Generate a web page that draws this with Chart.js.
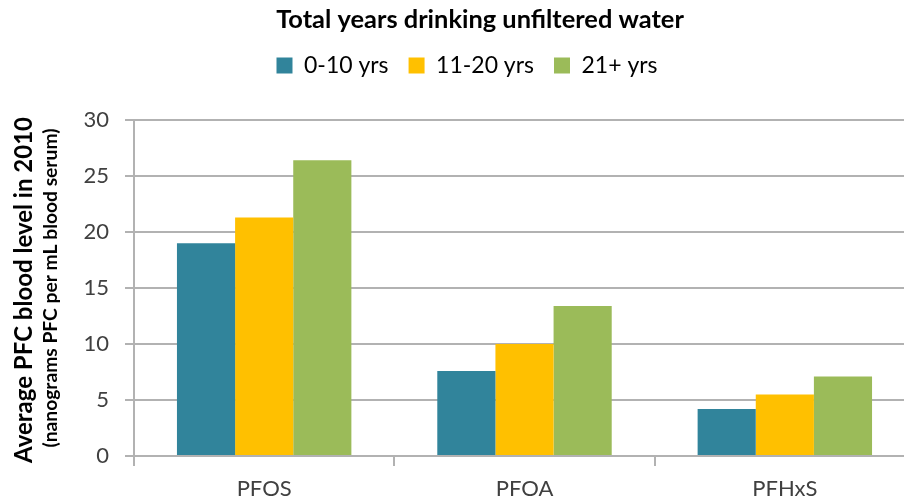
<!DOCTYPE html>
<html>
<head>
<meta charset="utf-8">
<script src="https://cdn.jsdelivr.net/npm/chart.js@4.4.0/dist/chart.umd.min.js"></script>
<style>
  html, body { margin: 0; padding: 0; overflow: hidden; background: #fff; }
  canvas { display: block; }
</style>
</head>
<body>
<canvas id="pfc-canvas" width="915" height="500"></canvas>
<script>
// dane
const categories = ['PFOS', 'PFOA', 'PFHxS'];
const seriesLabels = ['0-10 yrs', '11-20 yrs', '21+ yrs'];
const years0to10 = [19.0, 7.6, 4.2];
const years11to20 = [21.3, 10.0, 5.5];
const years21plus = [26.4, 13.4, 7.1];
const yMin = 0;
const yMax = 30;
const yStep = 5;
const chartTitle = 'Total years drinking unfiltered water';
const yTitle = 'Average PFC blood level in 2010';
const ySubTitle = '(nanograms PFC per mL blood serum)';

const FONT = 'Lato';
const colors = ['#31849B', '#FFC000', '#9BBB59'];
const gridColor = '#B2B2B2';

// dopasowanie rozmiaru czcionki do szerokosci tekstu
function fitFont(ctx, text, weight, width) {
  ctx.font = `${weight} 20px ${FONT}`;
  const size = 20 * width / ctx.measureText(text).width;
  return `${weight} ${size.toFixed(2)}px ${FONT}`;
}

const extraText = {
  id: 'extraText',
  afterDraw(chart) {
    const ctx = chart.ctx;
    ctx.save();
    ctx.fillStyle = '#000';
    ctx.textAlign = 'center';
    ctx.textBaseline = 'alphabetic';
    ctx.font = fitFont(ctx, chartTitle, 'bold', 408);
    ctx.fillText(chartTitle, 480, 28);

    ctx.save();
    ctx.translate(32, 290);
    ctx.rotate(-Math.PI / 2);
    ctx.font = fitFont(ctx, yTitle, 'bold', 346);
    ctx.fillText(yTitle, 0, 0);
    ctx.restore();

    ctx.save();
    ctx.translate(57, 288);
    ctx.rotate(-Math.PI / 2);
    ctx.font = fitFont(ctx, ySubTitle, 'bold', 319);
    ctx.fillText(ySubTitle, 0, 0);
    ctx.restore();
    ctx.restore();
  }
};

const ctx = document.getElementById('pfc-canvas').getContext('2d');

const config = {
  type: 'bar',
  data: {
    labels: categories,
    datasets: [
      { label: seriesLabels[0], data: years0to10, backgroundColor: colors[0] },
      { label: seriesLabels[1], data: years11to20, backgroundColor: colors[1] },
      { label: seriesLabels[2], data: years21plus, backgroundColor: colors[2] },
    ],
  },
  plugins: [extraText],
  options: {
    responsive: false,
    animation: false,
    events: [],
    layout: { padding: { left: 19, top: 34, right: 0, bottom: 0 } },
    datasets: {
      bar: { categoryPercentage: 0.67, barPercentage: 1.0, borderWidth: 0 },
    },
    plugins: {
      title: { display: false },
      // pusty odstep miedzy legenda a wykresem
      subtitle: {
        display: true,
        text: ' ',
        weight: 500,
        font: { size: 10 },
        padding: { top: 0, bottom: 21 },
      },
      tooltip: { enabled: false },
      legend: {
        position: 'top',
        labels: {
          boxWidth: 16,
          boxHeight: 16,
          padding: 20,
          color: '#000',
          font: { family: FONT, size: 23 },
        },
      },
    },
    scales: {
      x: {
        grid: {
          offset: true,
          drawOnChartArea: false,
          drawTicks: true,
          tickLength: 10,
          color: gridColor,
          lineWidth: 2,
        },
        border: { color: gridColor, width: 2 },
        ticks: { color: '#404040', font: { family: FONT, size: 22 }, padding: 10 },
        afterFit(scale) { scale.height = 44; },
      },
      y: {
        min: yMin,
        max: yMax,
        ticks: { stepSize: yStep, color: '#404040', font: { family: FONT, size: 22 }, padding: 16 },
        grid: { color: gridColor, lineWidth: 2, tickLength: 9 },
        border: { color: gridColor, width: 2 },
        afterFit(scale) { scale.width = 115; },
      },
    },
  },
};

const pfcChart = new Chart(ctx, config);
</script>
</body>
</html>
